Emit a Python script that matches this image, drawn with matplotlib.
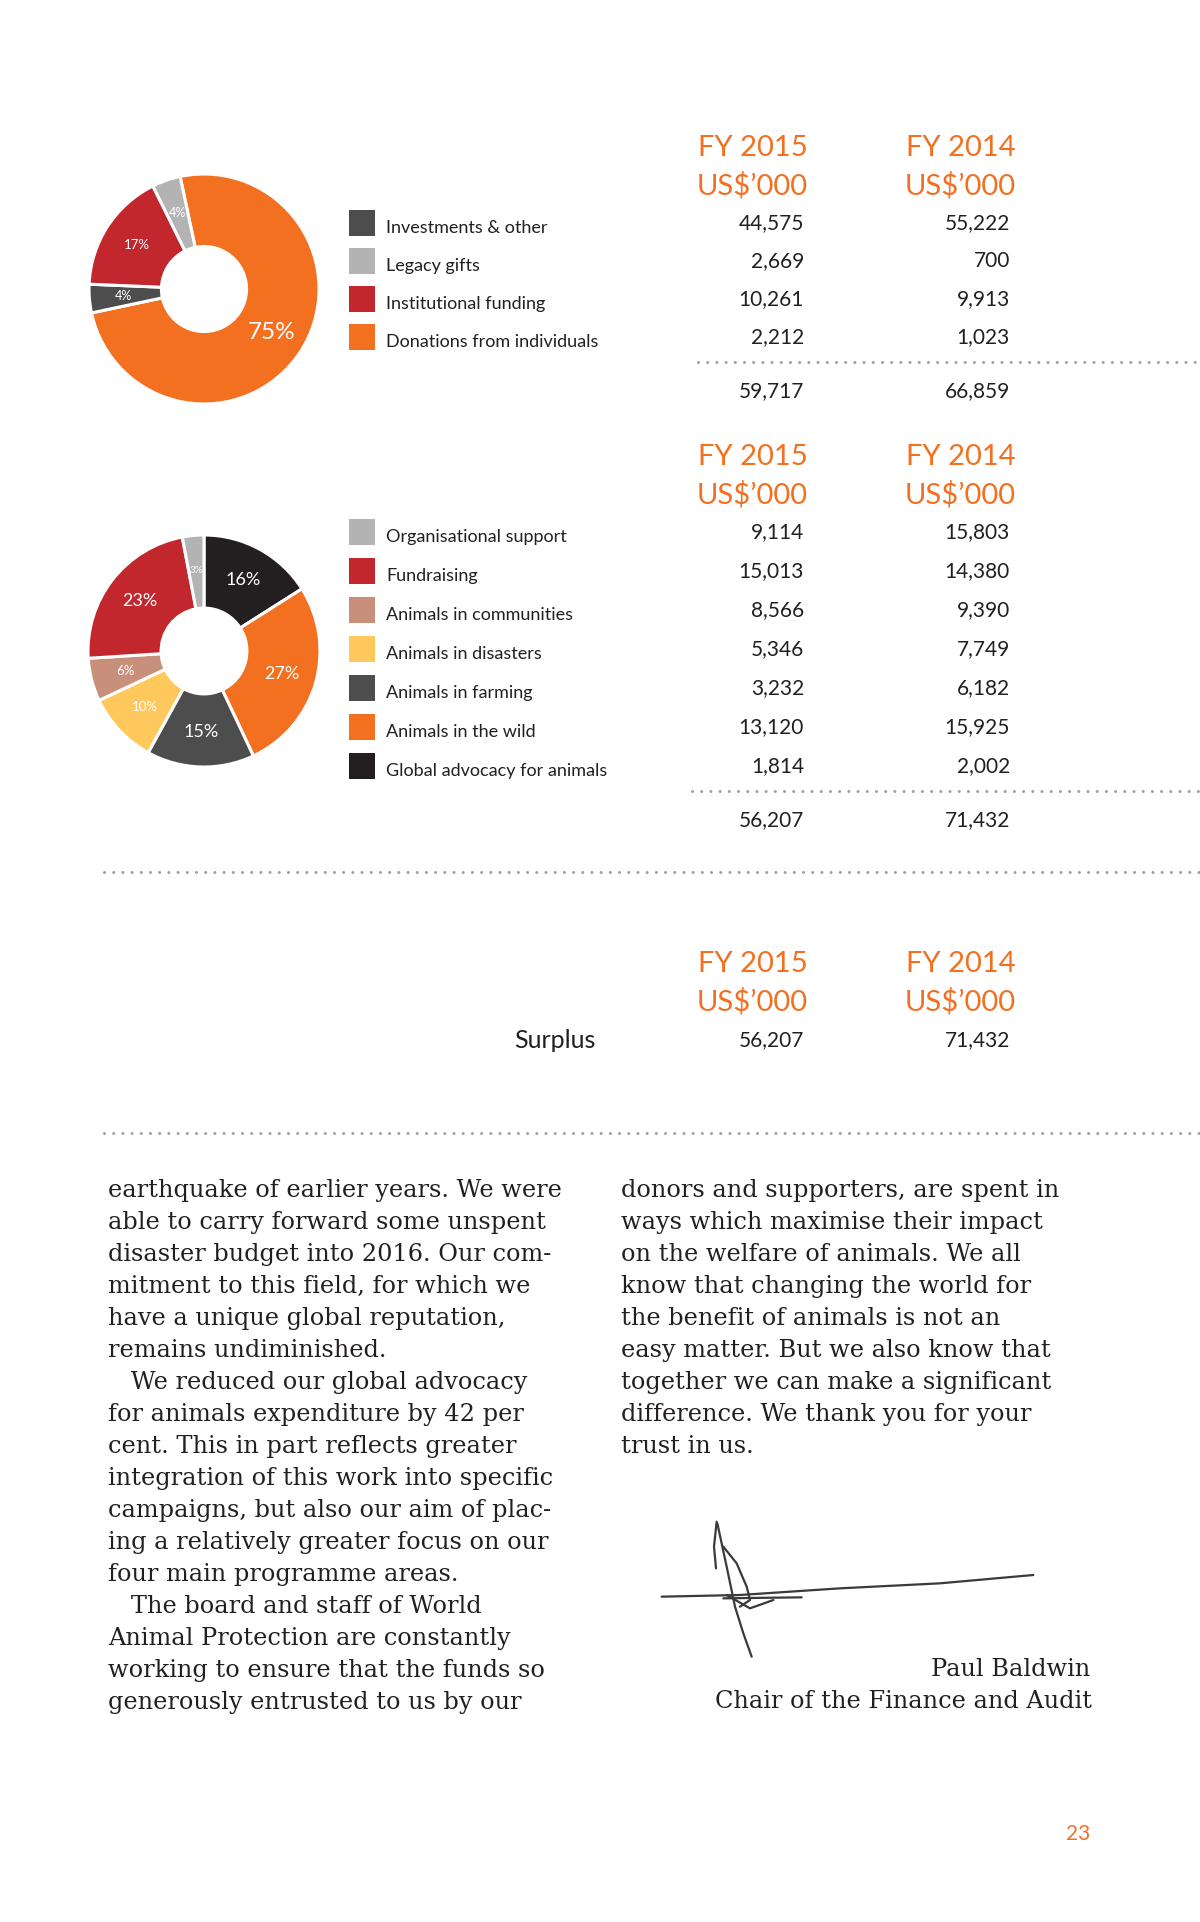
import matplotlib
matplotlib.use("Agg")
import matplotlib.pyplot as plt
from matplotlib.lines import Line2D
from matplotlib.patches import Rectangle

W, H = 1200, 1922

years = ["FY 2015", "FY 2014"]
unit = r"US\$’000"

income_labels = ["Investments & other", "Legacy gifts", "Institutional funding",
                 "Donations from individuals"]
income_2015 = [44575, 2669, 10261, 2212]
income_2014 = [55222, 700, 9913, 1023]
income_total = [59717, 66859]
income_share = [4, 4, 17, 75]
income_colors = ["#4d4d4d", "#b3b3b3", "#c1272d", "#f37021"]
income_pie_order = [3, 0, 2, 1]

spend_labels = ["Organisational support", "Fundraising", "Animals in communities",
                "Animals in disasters", "Animals in farming", "Animals in the wild",
                "Global advocacy for animals"]
spend_2015 = [9114, 15013, 8566, 5346, 3232, 13120, 1814]
spend_2014 = [15803, 14380, 9390, 7749, 6182, 15925, 2002]
spend_total = [56207, 71432]
spend_share = [3, 23, 6, 10, 15, 27, 16]
spend_colors = ["#b3b3b3", "#c1272d", "#c8907b", "#ffc85c", "#4d4d4d", "#f37021", "#231f20"]
spend_pie_order = [6, 5, 4, 3, 2, 1, 0]

surplus = [56207, 71432]

left_col = [
    "earthquake of earlier years. We were",
    "able to carry forward some unspent",
    "disaster budget into 2016. Our com-",
    "mitment to this field, for which we",
    "have a unique global reputation,",
    "remains undiminished.",
    "   We reduced our global advocacy",
    "for animals expenditure by 42 per",
    "cent. This in part reflects greater",
    "integration of this work into specific",
    "campaigns, but also our aim of plac-",
    "ing a relatively greater focus on our",
    "four main programme areas.",
    "   The board and staff of World",
    "Animal Protection are constantly",
    "working to ensure that the funds so",
    "generously entrusted to us by our",
]
right_col = [
    "donors and supporters, are spent in",
    "ways which maximise their impact",
    "on the welfare of animals. We all",
    "know that changing the world for",
    "the benefit of animals is not an",
    "easy matter. But we also know that",
    "together we can make a significant",
    "difference. We thank you for your",
    "trust in us.",
]

ORANGE = "#f37021"
INK = "#231f20"
SANS = ["Lato", "DejaVu Sans"]
SERIF = ["DejaVu Serif"]

fig = plt.figure(figsize=(W / 100, H / 100), dpi=100)
fig.patch.set_facecolor("white")


def text(x, y, s, **kw):
    fig.text(x / W, 1 - y / H, s, **kw)


def dots(x0, x1, y):
    fig.add_artist(Line2D([x0 / W, x1 / W], [1 - y / H, 1 - y / H], transform=fig.transFigure,
                          color="#a0a0a0", lw=2.2, linestyle=(0, (0.01, 3)),
                          dash_capstyle="round"))


def donut(cx, cy, r, shares, colors, order, start, sizes):
    pad = 1.04
    ax = fig.add_axes([(cx - r * pad) / W, 1 - (cy + r * pad) / H, 2 * r * pad / W, 2 * r * pad / H])
    vals = [shares[i] for i in order]
    cols = [colors[i] for i in order]
    _, _, autotexts = ax.pie(vals, colors=cols, startangle=start, counterclock=False,
                             autopct=lambda p: f"{p:.0f}%", pctdistance=0.70,
                             wedgeprops=dict(width=0.63, edgecolor="white", linewidth=2.2),
                             textprops=dict(color="white", family=SANS))
    for t, i in zip(autotexts, order):
        t.set_fontsize(sizes[i])
    ax.set_xlim(-pad, pad)
    ax.set_ylim(-pad, pad)
    ax.set_aspect("equal")


def header(y):
    for x, yr in zip([808, 1016], years):
        text(x, y, yr, color=ORANGE, fontsize=21, ha="right", va="center", family=SANS)
        text(x, y + 38, unit, color=ORANGE, fontsize=21, ha="right", va="center", family=SANS)


def legend_rows(rows, labels, colors, v15, v14):
    for y, lab, c, a, b in zip(rows, labels, colors, v15, v14):
        fig.add_artist(Rectangle(((349) / W, 1 - (y + 13) / H), 26 / W, 26 / H,
                                 transform=fig.transFigure, color=c, lw=0))
        text(386, y + 5, lab, color=INK, fontsize=13, ha="left", va="center", family=SANS)
        text(804, y, f"{a:,}", color=INK, fontsize=15, ha="right", va="center", family=SANS)
        text(1010, y, f"{b:,}", color=INK, fontsize=15, ha="right", va="center", family=SANS)


# income block
donut(204, 289, 115, income_share, income_colors, income_pie_order, 102,
      [9, 9, 9.5, 17.5])
header(148)
legend_rows([223, 261, 299, 337], income_labels, income_colors, income_2015, income_2014)
dots(698, 1200, 362)
text(804, 391, f"{income_total[0]:,}", color=INK, fontsize=15, ha="right", va="center", family=SANS)
text(1010, 391, f"{income_total[1]:,}", color=INK, fontsize=15, ha="right", va="center", family=SANS)

# expenditure block
donut(204, 651, 116, spend_share, spend_colors, spend_pie_order, 90,
      [7, 13, 9.5, 9.5, 13, 13, 13])
header(457)
legend_rows([532, 571, 610, 649, 688, 727, 766], spend_labels, spend_colors, spend_2015, spend_2014)
dots(692, 1200, 791)
text(804, 820, f"{spend_total[0]:,}", color=INK, fontsize=15, ha="right", va="center", family=SANS)
text(1010, 820, f"{spend_total[1]:,}", color=INK, fontsize=15, ha="right", va="center", family=SANS)

dots(104, 1200, 872)

# surplus block
header(964)
text(596, 1041, "Surplus", color=INK, fontsize=18, ha="right", va="center", family=SANS)
text(804, 1040, f"{surplus[0]:,}", color=INK, fontsize=15, ha="right", va="center", family=SANS)
text(1010, 1040, f"{surplus[1]:,}", color=INK, fontsize=15, ha="right", va="center", family=SANS)

dots(104, 1200, 1133)

# body text
for i, line in enumerate(left_col):
    text(108, 1197 + i * 32, line, color=INK, fontsize=17.3, ha="left", va="baseline", family=SERIF)
for i, line in enumerate(right_col):
    text(621, 1197 + i * 32, line, color=INK, fontsize=17.3, ha="left", va="baseline", family=SERIF)

# signature
strokes = [
    [(230, 125), (222, 200), (228, 265)],
    [(232, 130), (260, 260), (285, 380), (310, 460), (335, 530)],
    [(250, 200), (290, 250), (320, 320), (330, 360), (300, 380)],
    [(65, 350), (300, 345), (600, 325), (900, 310), (1180, 285)],
    [(250, 355), (485, 352)],
    [(260, 345), (330, 385), (400, 360)],
]
for s in strokes:
    xs = [(640 + p[0] / 3) / W for p in s]
    ys = [1 - (1480 + p[1] / 3) / H for p in s]
    fig.add_artist(Line2D(xs, ys, transform=fig.transFigure, color="#3a3a3a", lw=1.6,
                          solid_capstyle="round"))

text(1090, 1676, "Paul Baldwin", color=INK, fontsize=17.3, ha="right", va="baseline", family=SERIF)
text(1092, 1708, "Chair of the Finance and Audit", color=INK, fontsize=17.3, ha="right",
     va="baseline", family=SERIF)

text(1078, 1834, "23", color=ORANGE, fontsize=15, ha="center", va="center", family=SANS)

fig.savefig("out.png", dpi=100, facecolor="white")
